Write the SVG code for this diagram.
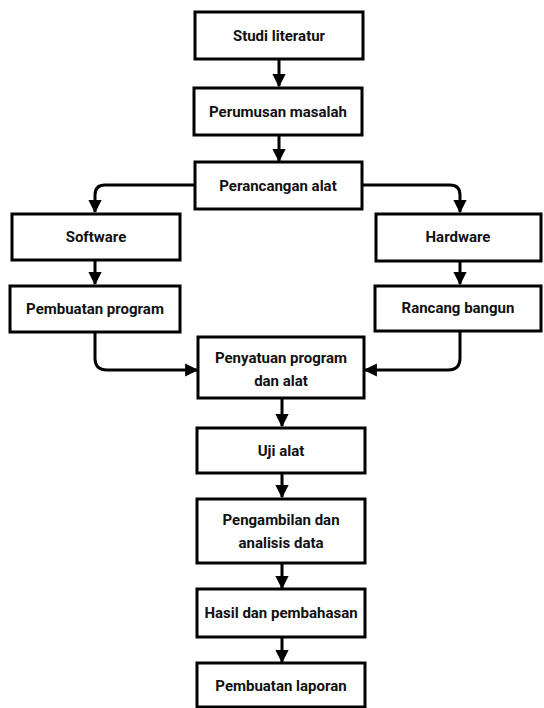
<svg xmlns="http://www.w3.org/2000/svg" width="544" height="708" viewBox="0 0 544 708">
<style>
.box{fill:#fff;stroke:#000;stroke-width:3}
.t{font-family:Roboto,"Liberation Sans",sans-serif;font-weight:bold;font-size:15px;fill:#111;text-anchor:middle}
.c{fill:none;stroke:#000;stroke-width:3}
</style>
<defs>
<marker id="ah" viewBox="0 0 10 10" refX="9" refY="5" markerWidth="4.4" markerHeight="4.4" orient="auto" markerUnits="strokeWidth">
<path d="M0,0 L10,5 L0,10 Z" fill="#000"/>
</marker>
</defs>
<rect width="544" height="708" fill="#fff"/>
<g id="connectors">
<path class="c" d="M279,59 V86" marker-end="url(#ah)"/>
<path class="c" d="M279,135 V161" marker-end="url(#ah)"/>
<path class="c" d="M195,185 H105 Q95,185 95,195 V212" marker-end="url(#ah)"/>
<path class="c" d="M362,185 H450 Q460,185 460,195 V212" marker-end="url(#ah)"/>
<path class="c" d="M95,260 V284" marker-end="url(#ah)"/>
<path class="c" d="M460,261 V284" marker-end="url(#ah)"/>
<path class="c" d="M95,332 V358 Q95,370 107,370 H197" marker-end="url(#ah)"/>
<path class="c" d="M460,331 V358 Q460,370 448,370 H365" marker-end="url(#ah)"/>
<path class="c" d="M282,398 V426" marker-end="url(#ah)"/>
<path class="c" d="M282,473 V497" marker-end="url(#ah)"/>
<path class="c" d="M282,563 V588" marker-end="url(#ah)"/>
<path class="c" d="M282,637 V662" marker-end="url(#ah)"/>
</g>
<g id="n1"><rect class="box" x="195" y="12" width="168" height="47"/><text class="t" x="279" y="41">Studi literatur</text></g>
<g id="n2"><rect class="box" x="194" y="88" width="168" height="47"/><text class="t" x="278" y="117">Perumusan masalah</text></g>
<g id="n3"><rect class="box" x="195" y="162" width="167" height="47"/><text class="t" x="278" y="191">Perancangan alat</text></g>
<g id="n4"><rect class="box" x="12" y="214" width="168" height="46"/><text class="t" x="96" y="242">Software</text></g>
<g id="n5"><rect class="box" x="376" y="214" width="165" height="47"/><text class="t" x="458" y="242">Hardware</text></g>
<g id="n6"><rect class="box" x="10" y="286" width="170" height="46"/><text class="t" x="95" y="314">Pembuatan program</text></g>
<g id="n7"><rect class="box" x="375" y="286" width="166" height="45"/><text class="t" x="458" y="313">Rancang bangun</text></g>
<g id="n8"><rect class="box" x="198" y="337" width="166" height="61"/><text class="t" x="281" y="363">Penyatuan program</text><text class="t" x="281" y="386">dan alat</text></g>
<g id="n9"><rect class="box" x="197" y="428" width="168" height="45"/><text class="t" x="281" y="456">Uji alat</text></g>
<g id="n10"><rect class="box" x="197" y="499" width="168" height="64"/><text class="t" x="281" y="525">Pengambilan dan</text><text class="t" x="281" y="548">analisis data</text></g>
<g id="n11"><rect class="box" x="197" y="589" width="168" height="48"/><text class="t" x="281" y="618">Hasil dan pembahasan</text></g>
<g id="n12"><rect class="box" x="197" y="663" width="168" height="44"/><text class="t" x="281" y="691">Pembuatan laporan</text></g>
</svg>
